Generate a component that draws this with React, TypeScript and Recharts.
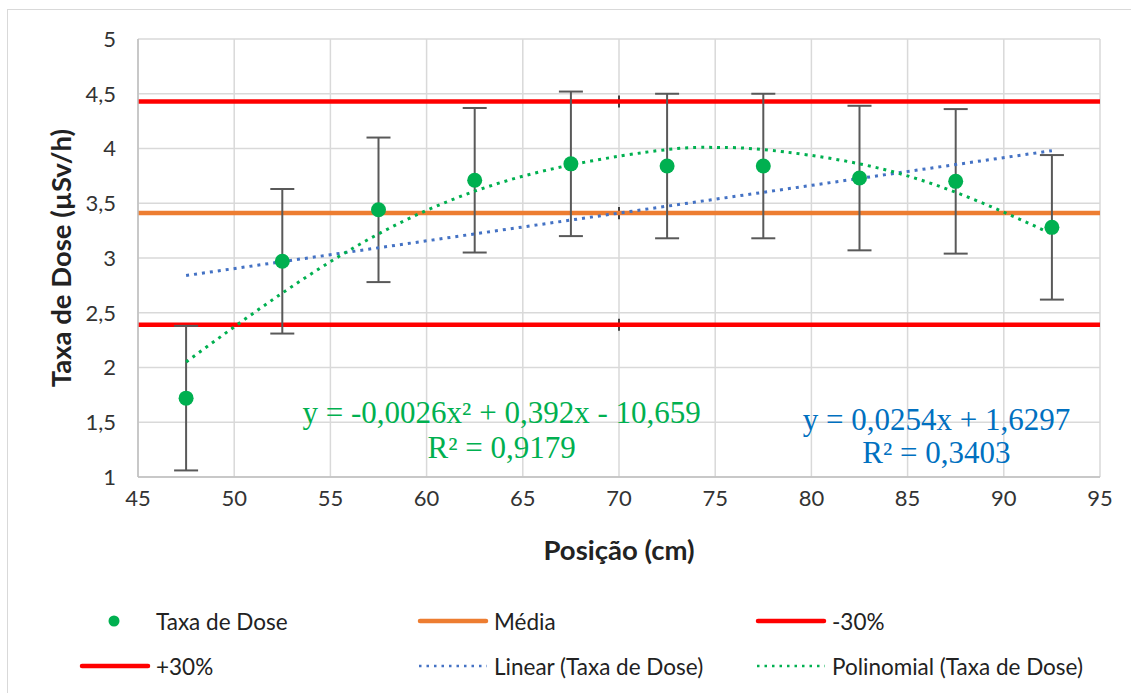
import React from 'react';
import {
  ComposedChart, Line, Scatter, XAxis, YAxis, CartesianGrid, ErrorBar, ReferenceDot,
} from 'recharts';

// measured dose rate at each position (µSv/h)
const positions = [47.5, 52.5, 57.5, 62.5, 67.5, 72.5, 77.5, 82.5, 87.5, 92.5];
const doseRate = [1.72, 2.97, 3.44, 3.71, 3.86, 3.84, 3.84, 3.73, 3.70, 3.28];
const doseError = [0.66, 0.66, 0.66, 0.66, 0.66, 0.66, 0.66, 0.66, 0.66, 0.66];

// reference levels
const refX = [45, 70, 95];
const refMark = [0, 0.055, 0];
const meanLevel = 3.41;
const lowLevel = 2.39;
const highLevel = 4.43;

// trendlines
const linearX = [47.5, 92.5];
const linearY = [2.84, 3.98];
const polyX = [47.5, 52.5, 57.5, 62.5, 67.5, 72.5, 75, 77.5, 82.5, 87.5, 92.5];
const polyY = [2.05, 2.68, 3.22, 3.61, 3.85, 3.99, 4.01, 3.99, 3.86, 3.6, 3.22];

const xTicks = [45, 50, 55, 60, 65, 70, 75, 80, 85, 90, 95];
const yTicks = [1, 1.5, 2, 2.5, 3, 3.5, 4, 4.5, 5];

const equations = [
  { x: 63.9, y: 1.49, text: 'y = -0,0026x² + 0,392x - 10,659', color: '#00B050' },
  { x: 63.9, y: 1.17, text: 'R² = 0,9179', color: '#00B050' },
  { x: 86.5, y: 1.43, text: 'y = 0,0254x + 1,6297', color: '#0070C0' },
  { x: 86.5, y: 1.13, text: 'R² = 0,3403', color: '#0070C0' },
];

const doseData = positions.map((x, i) => ({ x, y: doseRate[i], err: doseError[i] }));
const levelData = (v: number) => refX.map((x, i) => ({ x, y: v, err: refMark[i] }));
const linearData = linearX.map((x, i) => ({ x, y: linearY[i] }));
const polyData = polyX.map((x, i) => ({ x, y: polyY[i] }));

const SANS = 'Lato, "Open Sans", sans-serif';
const GREEN = '#00B050';
const BLUE = '#4472C4';
const ORANGE = '#ED7D31';
const RED = '#FF0000';

const fmt = (v: number) => String(v).replace('.', ',');

const legendItems = [
  { label: 'Taxa de Dose', kind: 'dot', color: GREEN, col: 0, row: 0 },
  { label: 'Média', kind: 'line', color: ORANGE, col: 1, row: 0 },
  { label: '-30%', kind: 'line', color: RED, col: 2, row: 0 },
  { label: '+30%', kind: 'line', color: RED, col: 0, row: 1 },
  { label: 'Linear (Taxa de Dose)', kind: 'dots', color: BLUE, col: 1, row: 1 },
  { label: 'Polinomial (Taxa de Dose)', kind: 'dots', color: GREEN, col: 2, row: 1 },
];
const colX = [71, 409, 747];
const rowY = [611, 656];

const LegendMarker = ({ kind, color }: { kind: string; color: string }) => (
  <svg width={72} height={14} style={{ display: 'block' }}>
    {kind === 'dot' && <circle cx={35} cy={7} r={5.5} fill={color} />}
    {kind === 'line' && (
      <line x1={3} y1={7} x2={69} y2={7} stroke={color} strokeWidth={4.5} strokeLinecap="round" />
    )}
    {kind === 'dots' && (
      <line x1={2} y1={7} x2={70} y2={7} stroke={color} strokeWidth={2.5} strokeDasharray="2.5 5" />
    )}
  </svg>
);

const eqContent = (text: string, color: string) => (props: any) => {
  const vb = props.viewBox || {};
  const x = (vb.x ?? 0) + (vb.width ?? 0) / 2;
  const y = (vb.y ?? 0) + (vb.height ?? 0) / 2;
  return (
    <text x={x} y={y} fill={color} fontFamily='"Liberation Serif", serif' fontSize={31} textAnchor="middle">
      {text}
    </text>
  );
};

const App: React.FC = () => {
  return (
    <div
      style={{
        position: 'absolute', left: 7, top: 9, width: 1130, height: 700,
        border: '1px solid #D9D9D9', boxSizing: 'border-box', background: '#fff',
      }}
    >
      <style>{'body{margin:0;overflow:hidden;}'}</style>
      <ComposedChart width={1112} height={560} margin={{ top: 29, right: 20, left: 0, bottom: 0 }}>
        <CartesianGrid stroke="#D9D9D9" strokeWidth={1.5} />
        <XAxis
          type="number"
          dataKey="x"
          domain={[45, 95]}
          ticks={xTicks}
          allowDataOverflow
          height={93}
          tickLine={false}
          tickSize={0}
          tickMargin={13}
          stroke="#BFBFBF"
          strokeWidth={1.5}
          tick={{ fill: '#333', fontSize: 22, fontFamily: SANS }}
          label={{
            content: (p: any) => {
              const vb = p.viewBox || {};
              return (
                <text x={vb.x + vb.width / 2} y={vb.y + 83} textAnchor="middle" fontFamily={SANS}
                  fontWeight="bold" fontSize={27.5} fill="#222">Posição (cm)</text>
              );
            },
          }}
        />
        <YAxis
          type="number"
          dataKey="y"
          domain={[1, 5]}
          ticks={yTicks}
          allowDataOverflow
          width={130}
          tickLine={false}
          tickSize={0}
          tickMargin={22}
          stroke="#BFBFBF"
          strokeWidth={1.5}
          tickFormatter={fmt}
          tick={{ fill: '#333', fontSize: 22, fontFamily: SANS }}
          label={{
            content: (p: any) => {
              const vb = p.viewBox || {};
              const cx = vb.x + 52;
              const cy = vb.y + vb.height / 2;
              return (
                <text x={cx} y={cy} transform={`rotate(-90 ${cx} ${cy})`} textAnchor="middle"
                  dominantBaseline="central" fontFamily={SANS} fontWeight="bold" fontSize={27.5} fill="#222">
                  Taxa de Dose (µSv/h)
                </text>
              );
            },
          }}
        />
        <Line data={levelData(meanLevel)} dataKey="y" stroke={ORANGE} strokeWidth={4.5} dot={false} isAnimationActive={false}>
          <ErrorBar dataKey="err" direction="y" width={0} stroke="#404040" strokeWidth={2} />
        </Line>
        <Line data={levelData(lowLevel)} dataKey="y" stroke={RED} strokeWidth={4.5} dot={false} isAnimationActive={false}>
          <ErrorBar dataKey="err" direction="y" width={0} stroke="#404040" strokeWidth={2} />
        </Line>
        <Line data={levelData(highLevel)} dataKey="y" stroke={RED} strokeWidth={4.5} dot={false} isAnimationActive={false}>
          <ErrorBar dataKey="err" direction="y" width={0} stroke="#404040" strokeWidth={2} />
        </Line>
        <Scatter
          data={doseData}
          dataKey="y"
          fill={GREEN}
          isAnimationActive={false}
          shape={(p: any) => <circle cx={p.cx} cy={p.cy} r={7.5} fill={GREEN} />}
        >
          <ErrorBar dataKey="err" direction="y" width={12} stroke="#595959" strokeWidth={2} />
        </Scatter>
        <Line data={linearData} dataKey="y" stroke={BLUE} strokeWidth={3} strokeDasharray="3 5" dot={false} isAnimationActive={false} />
        <Line data={polyData} type="natural" dataKey="y" stroke={GREEN} strokeWidth={3} strokeDasharray="3 5" dot={false} isAnimationActive={false} />
        {equations.map((e) => (
          <ReferenceDot key={e.text} x={e.x} y={e.y} r={1} fill="none" stroke="none" label={{ content: eqContent(e.text, e.color) }} />
        ))}
      </ComposedChart>
      {legendItems.map((it) => (
        <div
          key={it.label}
          style={{
            position: 'absolute', left: colX[it.col], top: rowY[it.row] - 14, height: 28,
            display: 'flex', alignItems: 'center', fontFamily: SANS, fontSize: 22.5, color: '#222', whiteSpace: 'nowrap',
          }}
        >
          <LegendMarker kind={it.kind} color={it.color} />
          <span style={{ marginLeft: 5 }}>{it.label}</span>
        </div>
      ))}
    </div>
  );
};

export default App;
